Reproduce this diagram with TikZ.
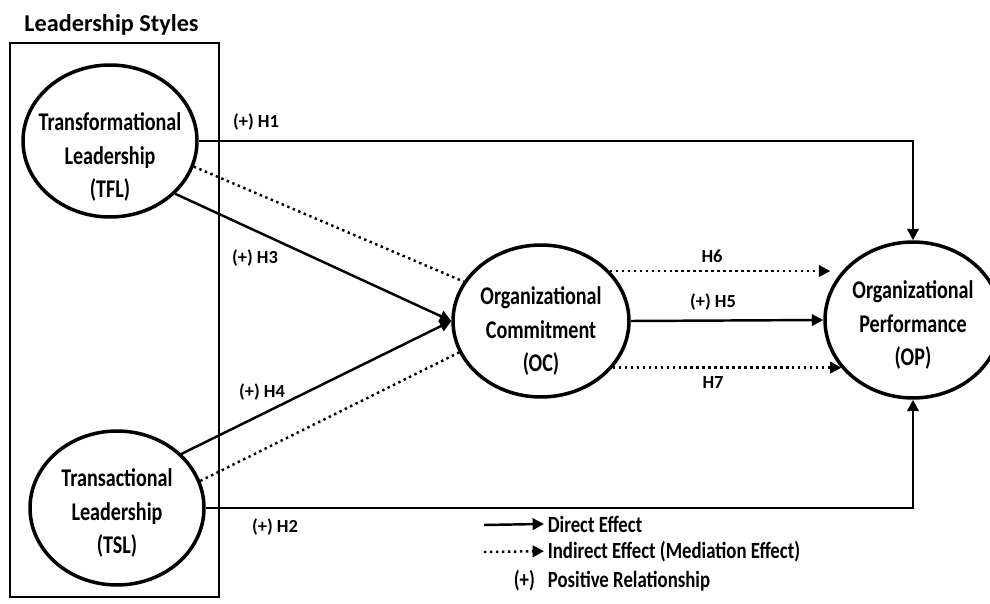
\documentclass[tikz,border=0pt]{standalone}
\usepackage{fontspec}
\setmainfont{Carlito}
\newfontfamily\ovalfont[FakeStretch=0.79]{Carlito}
\newfontfamily\keyfont[FakeStretch=0.81]{Carlito}
\usetikzlibrary{arrows.meta, positioning, shapes.geometric}

\begin{document}
\begin{tikzpicture}[x=0.02cm,y=-0.02cm,
                    main node/.style={ellipse,draw,line width=2pt,inner sep=0pt},
                    main text/.style={align=center,font=\ovalfont\bfseries\fontsize{14.5}{19.3}\selectfont},
                    hyp label/.style={font=\bfseries\fontsize{10.5}{12}\selectfont},
                    key text/.style={anchor=base west,inner xsep=2pt,inner ysep=0pt,font=\keyfont\bfseries\fontsize{13.2}{15}\selectfont},
                    direct/.style={line width=1.4pt,-{Triangle[length=6.5pt,width=6.5pt]}},
                    indirect/.style={line width=1.4pt,dash pattern=on 1.4pt off 2pt}]

  \useasboundingbox (0,0) rectangle (990,604);

  % leadership styles box
  \node[font=\bfseries\fontsize{13.8}{16}\selectfont,anchor=base] (title) at (111.5,32) {Leadership Styles};
  \draw[line width=0.8pt] (10,43) rectangle (219,597);

  \node[main node,minimum width=3.48cm,minimum height=3.04cm] (tfl) at (110,141) {};
  \node[main node,minimum width=3.48cm,minimum height=3.08cm] (tsl) at (117,508) {};
  \node[main node,minimum width=3.52cm,minimum height=3.04cm] (oc) at (541,321) {};
  \node[main node,minimum width=3.52cm,minimum height=3.12cm] (op) at (913,320) {};

  \node[main text] (tfltext) at (110,157) {Transformational\\Leadership\\(TFL)};
  \node[main text] (tsltext) at (117,513) {Transactional\\Leadership\\(TSL)};
  \node[main text] (octext) at (541,331) {Organizational\\Commitment\\(OC)};
  \node[main text] (optext) at (913,325) {Organizational\\Performance\\(OP)};

  % direct effects
  \draw[direct] (tfl.east) -| (op.north);
  \draw[direct] (tsl.east) -| (op.south);
  \path[direct]
    (tfl.-39) edge (oc.west)
    (tsl.40) edge (oc.west)
    (oc.east) edge (op.west);

  % indirect effects
  \path[indirect]
    (tfl.-17) edge (oc.153)
    (tsl.18) edge (oc.-159);
  \draw[indirect,-{Triangle[length=6.5pt,width=6.5pt]}] (oc.36) -- ([xshift=4pt]oc.36 -| op.west);
  \draw[indirect,-{Triangle[length=6.5pt,width=6.5pt]}] (oc.-33) -- (oc.-33 -| op.214);

  \node[hyp label] (h1) at (256,122) {(+) H1};
  \node[hyp label] (h2) at (275,527) {(+) H2};
  \node[hyp label] (h3) at (255,258) {(+) H3};
  \node[hyp label] (h4) at (262,392) {(+) H4};
  \node[hyp label] (h5) at (713,302) {(+) H5};
  \node[hyp label] (h6) at (712,256) {H6};
  \node[hyp label] (h7) at (713,383) {H7};

  % legend
  \node[key text] (keydirect) at (544,532) {Direct Effect};
  \node[key text] (keyindirect) at (544,558) {Indirect Effect (Mediation Effect)};
  \node[key text] (keyplus) at (510,587) {(+)};
  \node[key text] (keypositive) at (544,587) {Positive Relationship};
  \coordinate (keydirectstart) at (484,525);
  \coordinate (keyindirectstart) at (484,552);
  \draw[direct] (keydirectstart) -- (keydirect.west);
  \draw[indirect,-{Triangle[length=6.5pt,width=6.5pt]}] (keyindirectstart) -- (keyindirect.west);
\end{tikzpicture}
\end{document}
